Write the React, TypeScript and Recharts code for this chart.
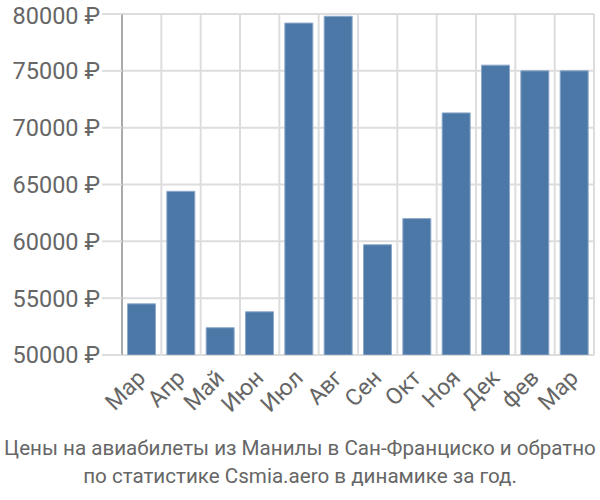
import { BarChart, Bar, XAxis, YAxis, CartesianGrid } from "recharts";

const months = ["Мар", "Апр", "Май", "Июн", "Июл", "Авг", "Сен", "Окт", "Ноя", "Дек", "фев", "Мар"];
const prices = [54500, 64400, 52400, 53800, 79200, 79800, 59700, 62000, 71300, 75500, 75000, 75000];
const yTicks = [50000, 55000, 60000, 65000, 70000, 75000, 80000];
const gridTicks = [0, 1, 2, 3, 4, 5, 6, 7, 8, 9, 10, 11, 12];

const FONT = "Roboto, 'Liberation Sans', sans-serif";
const TEXT = "#666";

const data = months.map((m, i) => ({ month: m, price: prices[i], idx: i }));

function MonthTick({ x, y, payload }: any) {
  return (
    <text
      x={x}
      y={y}
      transform={`rotate(-45 ${x} ${y})`}
      textAnchor="end"
      dominantBaseline="central"
      fontSize={23}
      fontFamily={FONT}
      fill={TEXT}
    >
      {payload.value}
    </text>
  );
}

function GridTick({ x, y, index }: any) {
  return <line x1={x} x2={x} y1={y} y2={y + 19} stroke={index === 0 ? "#aaa" : "#ddd"} strokeWidth={2} />;
}

export default function App() {
  return (
    <div style={{ position: "absolute", left: 0, top: 0, width: 600, height: 500, background: "#fff" }}>
      <BarChart
        width={600}
        height={500}
        data={data}
        margin={{ top: 14, right: 6, bottom: 0, left: 0 }}
        barCategoryGap="14%"
      >
        <CartesianGrid xAxisId="grid" stroke="#ddd" strokeWidth={2} />
        <XAxis
          xAxisId="grid"
          type="number"
          dataKey="idx"
          domain={[0, 12]}
          ticks={gridTicks}
          height={0}
          axisLine={{ stroke: "#ccc", strokeWidth: 2 }}
          tickLine={false}
          tick={<GridTick />}
          interval={0}
        />
        <XAxis
          dataKey="month"
          height={145}
          axisLine={false}
          tickLine={false}
          tickMargin={13}
          interval={0}
          tick={<MonthTick />}
        />
        <YAxis
          width={122}
          domain={[50000, 80000]}
          ticks={yTicks}
          allowDataOverflow
          tickSize={20}
          tickMargin={2}
          tickLine={{ stroke: "#ddd", strokeWidth: 2 }}
          axisLine={{ stroke: "#aaa", strokeWidth: 2 }}
          tickFormatter={(v: number) => `${v} ₽`}
          tick={{ fontSize: 23.5, fontFamily: FONT, fill: TEXT }}
        />
        <Bar dataKey="price" fill="#4c78a8" stroke="#8ea9c9" strokeWidth={1} isAnimationActive={false} />
      </BarChart>
      <div
        style={{
          position: "absolute",
          left: 0,
          top: 434,
          width: 600,
          textAlign: "center",
          fontFamily: FONT,
          fontSize: 20.6,
          lineHeight: "28px",
          color: TEXT,
          whiteSpace: "nowrap",
        }}
      >
        Цены на авиабилеты из Манилы в Сан-Франциско и обратно
        <br />
        по статистике Csmia.aero в динамике за год.
      </div>
    </div>
  );
}
